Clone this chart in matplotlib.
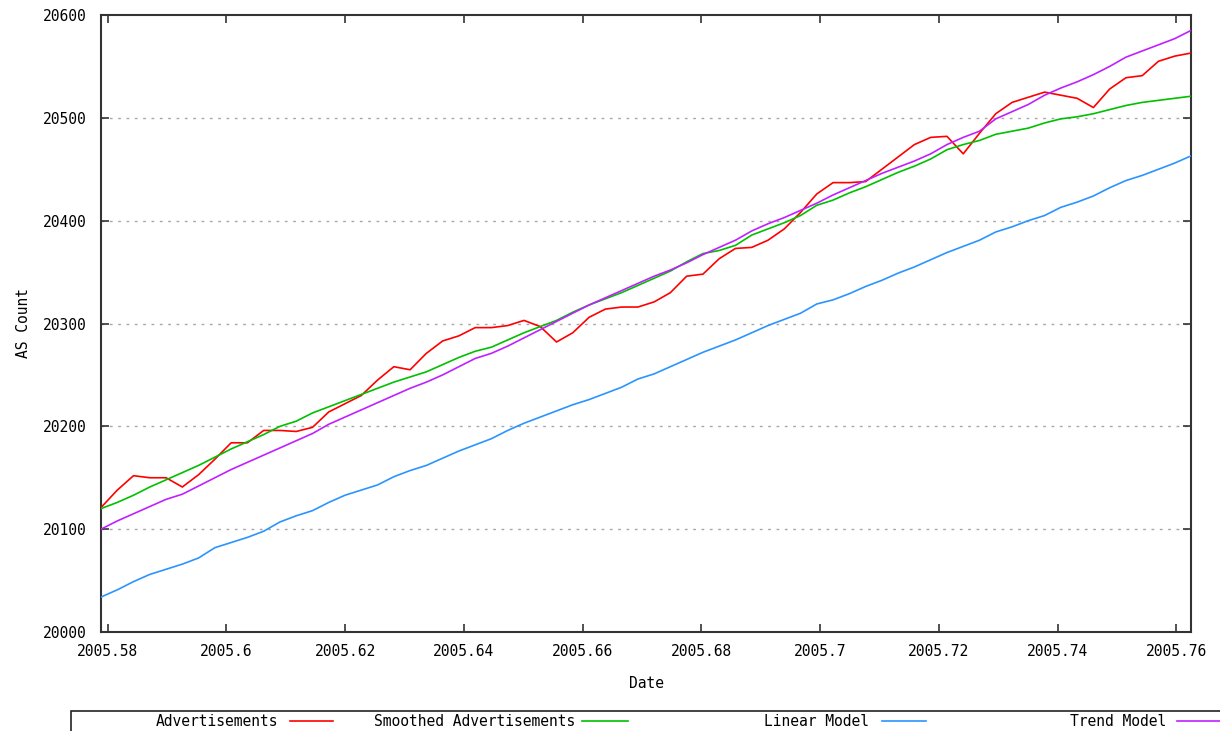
import numpy as np
import matplotlib
matplotlib.use("Agg")
import matplotlib.pyplot as plt
from matplotlib.lines import Line2D
from matplotlib.patches import Rectangle

# ---- data (daily samples, dates as fractional years) ----
first_day_of_year = 211.3      # day index of first sample within 2005
n_days = 68
dates = 2005 + (first_day_of_year + np.arange(n_days)) / 365.0

advertisements = [
    20121, 20138, 20152, 20150, 20150, 20141, 20153, 20168, 20184, 20184,
    20196, 20196, 20195, 20199, 20214, 20222, 20230, 20245, 20258, 20255,
    20271, 20283, 20288, 20296, 20296, 20298, 20303, 20297, 20282, 20291,
    20306, 20314, 20316, 20316, 20321, 20330, 20346, 20348, 20363, 20373,
    20374, 20381, 20392, 20408, 20426, 20437, 20437, 20438, 20450, 20462,
    20474, 20481, 20482, 20465, 20485, 20504, 20515, 20520, 20525, 20522,
    20519, 20510, 20528, 20539, 20541, 20555, 20560, 20563]

smoothed = [
    20120, 20126, 20133, 20141, 20148, 20155, 20162, 20170, 20178, 20185,
    20192, 20200, 20205, 20213, 20219, 20225, 20231, 20237, 20243, 20248,
    20253, 20260, 20267, 20273, 20277, 20284, 20291, 20297, 20303, 20311,
    20318, 20324, 20330, 20337, 20344, 20351, 20360, 20368, 20371, 20376,
    20386, 20392, 20398, 20405, 20415, 20420, 20427, 20433, 20440, 20447,
    20453, 20460, 20469, 20474, 20478, 20484, 20487, 20490, 20495, 20499,
    20501, 20504, 20508, 20512, 20515, 20517, 20519, 20521]

linear_model = [
    20034, 20041, 20049, 20056, 20061, 20066, 20072, 20082, 20087, 20092,
    20098, 20107, 20113, 20118, 20126, 20133, 20138, 20143, 20151, 20157,
    20162, 20169, 20176, 20182, 20188, 20196, 20203, 20209, 20215, 20221,
    20226, 20232, 20238, 20246, 20251, 20258, 20265, 20272, 20278, 20284,
    20291, 20298, 20304, 20310, 20319, 20323, 20329, 20336, 20342, 20349,
    20355, 20362, 20369, 20375, 20381, 20389, 20394, 20400, 20405, 20413,
    20418, 20424, 20432, 20439, 20444, 20450, 20456, 20463]

trend_model = [
    20100, 20108, 20115, 20122, 20129, 20134, 20142, 20150, 20158, 20165,
    20172, 20179, 20186, 20193, 20202, 20209, 20216, 20223, 20230, 20237,
    20243, 20250, 20258, 20266, 20271, 20278, 20286, 20294, 20302, 20310,
    20318, 20325, 20332, 20339, 20346, 20352, 20359, 20367, 20374, 20381,
    20390, 20397, 20403, 20410, 20417, 20425, 20432, 20439, 20446, 20452,
    20458, 20465, 20474, 20481, 20487, 20499, 20506, 20513, 20522, 20529,
    20535, 20542, 20550, 20559, 20565, 20571, 20577, 20585]

series_labels = ["Advertisements", "Smoothed Advertisements", "Linear Model", "Trend Model"]
x_ticks = [2005.58, 2005.60, 2005.62, 2005.64, 2005.66, 2005.68, 2005.70, 2005.72, 2005.74, 2005.76]
x_tick_labels = ["2005.58", "2005.6", "2005.62", "2005.64", "2005.66", "2005.68",
                 "2005.7", "2005.72", "2005.74", "2005.76"]
y_ticks = [20000, 20100, 20200, 20300, 20400, 20500, 20600]

colors = ["#ff0000", "#00c000", "#2a94ff", "#c020ff"]

# ---- figure ----
W, H = 1220, 731
fig = plt.figure(figsize=(W / 100, H / 100), dpi=100)
fig.patch.set_facecolor("white")
font = "DejaVu Sans Mono"
fs = 10.5

L, R, T, B = 101, 1191, 15, 632
ax = fig.add_axes([L / W, 1 - B / H, (R - L) / W, (B - T) / H])

series = [advertisements, smoothed, linear_model, trend_model]
for vals, c, lab in zip(series, colors, series_labels):
    ax.plot(dates, vals, color=c, lw=1.2, label=lab, zorder=3)

ax.set_xlim(dates[0], dates[-1])
ax.set_ylim(20000, 20600)
ax.set_xticks(x_ticks)
ax.set_xticklabels(x_tick_labels, fontfamily=font, fontsize=fs)
ax.set_yticks(y_ticks)
ax.set_yticklabels([str(v) for v in y_ticks], fontfamily=font, fontsize=fs)
ax.tick_params(direction="in", length=6, width=1.2, top=True, right=True,
               color="#333333", pad=9)
ax.tick_params(axis="y", pad=10)

for yv in y_ticks[1:-1]:
    ax.axhline(yv, color="#a8a8a8", lw=1.0, linestyle=(0, (2, 4)), zorder=1)

for s in ax.spines.values():
    s.set_linewidth(1.5)
    s.set_color("#333333")

ax.set_xlabel("Date", fontfamily=font, fontsize=fs, labelpad=12)
ax.set_ylabel("AS Count", fontfamily=font, fontsize=fs, labelpad=9)

# ---- legend box at the bottom ----
box_top = 711
fig.add_artist(Rectangle((71 / W, -0.02), 1.1, (H - box_top) / H + 0.02,
                         transform=fig.transFigure, fill=False,
                         edgecolor="#222222", lw=1.2, clip_on=False))
legend_layout = [(278, 290, 333), (575, 582, 628), (869, 882, 926), (1166, 1177, 1220)]
ly = 1 - 721 / H
for lab, c, (tx, x0, x1) in zip(series_labels, colors, legend_layout):
    fig.text(tx / W, ly, lab, ha="right", va="center", fontfamily=font, fontsize=fs)
    fig.add_artist(Line2D([x0 / W, x1 / W], [ly, ly], transform=fig.transFigure,
                          color=c, lw=1.2))

fig.savefig("out.png", dpi=100)
